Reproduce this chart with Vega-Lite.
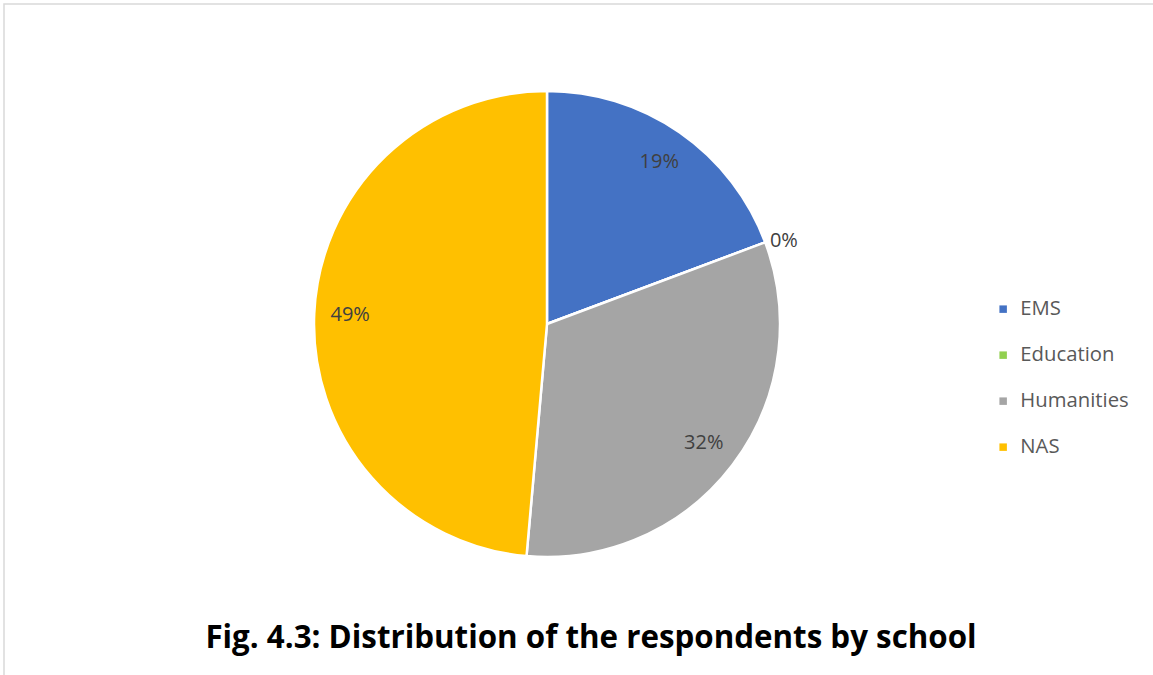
{
  "$schema": "https://vega.github.io/schema/vega-lite/v6.json",
  "width": 1086,
  "height": 640,
  "autosize": {"type": "none"},
  "padding": {"left": 4, "top": 4, "right": 63, "bottom": 31},
  "background": "white",
  "config": {
    "font": "Open Sans",
    "view": {"stroke": null}
  },
  "title": {
    "text": "Fig. 4.3: Distribution of the respondents by school",
    "orient": "bottom",
    "anchor": "middle",
    "dx": 44,
    "offset": -62,
    "font": "Open Sans",
    "fontSize": 31.3,
    "fontWeight": "bold",
    "color": "#000000"
  },
  "layer": [
    {
      "data": {"values": [{"frame": "chart area"}]},
      "mark": {
        "type": "rect",
        "fill": null,
        "stroke": "#d9d9d9",
        "strokeWidth": 1.5,
        "strokeDash": [1160, 1840, 680]
      },
      "encoding": {
        "x": {"value": 0},
        "x2": {"value": 1160},
        "y": {"value": 0},
        "y2": {"value": 680}
      }
    },
    {
      "data": {"name": "schools"},
      "layer": [
        {
          "mark": {"type": "arc", "outerRadius": 233, "stroke": "white", "strokeWidth": 2.5},
          "encoding": {
            "theta": {"field": "share", "type": "quantitative", "stack": true},
            "order": {"field": "school", "sort": "ascending"},
            "color": {
              "field": "school",
              "type": "nominal",
              "sort": ["EMS", "Education", "Humanities", "NAS"],
              "scale": {
                "domain": ["EMS", "Education", "Humanities", "NAS"],
                "range": ["#4472C4", "#92D050", "#A5A5A5", "#FFC000"]
              },
              "legend": {
                "title": null,
                "orient": "none",
                "legendX": 989,
                "legendY": 295,
                "symbolType": "square",
                "symbolSize": 56,
                "symbolStrokeWidth": 0,
                "labelFont": "Open Sans",
                "labelFontSize": 20.3,
                "labelColor": "#595959",
                "labelOffset": 7,
                "rowPadding": 25
              }
            }
          }
        },
        {
          "mark": {"type": "text", "radius": 197, "fontSize": 20, "color": "#404040"},
          "encoding": {
            "theta": {"field": "share", "type": "quantitative", "stack": true},
            "order": {"field": "school", "sort": "ascending"},
            "text": {
              "condition": {"test": "datum.school !== 'Education'", "field": "share", "type": "quantitative", "format": ".0%"},
              "value": ""
            }
          }
        },
        {
          "mark": {"type": "text", "radius": 238, "align": "left", "fontSize": 20, "color": "#404040"},
          "encoding": {
            "theta": {"field": "share", "type": "quantitative", "stack": true},
            "order": {"field": "school", "sort": "ascending"},
            "text": {
              "condition": {"test": "datum.school === 'Education'", "field": "share", "type": "quantitative", "format": ".0%"},
              "value": ""
            }
          }
        }
      ]
    }
  ],
  "datasets": {
    "schools": [
      {"school": "EMS", "share": 0.193},
      {"school": "Education", "share": 0.0},
      {"school": "Humanities", "share": 0.321},
      {"school": "NAS", "share": 0.486}
    ]
  }
}
